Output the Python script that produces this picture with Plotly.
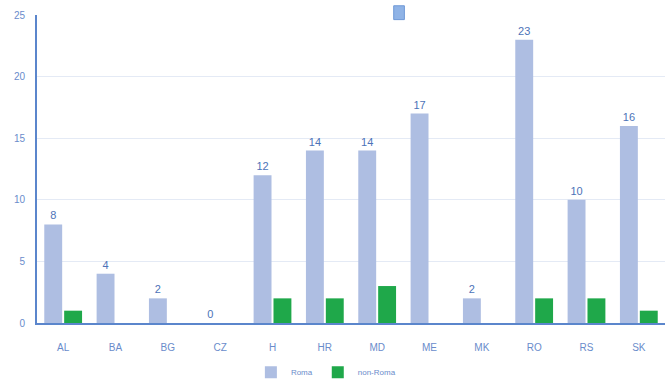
import plotly.graph_objects as go

countries = ["AL", "BA", "BG", "CZ", "H", "HR", "MD", "ME", "MK", "RO", "RS", "SK"]
roma = [8, 4, 2, 0, 12, 14, 14, 17, 2, 23, 10, 16]
non_roma = [1, 0, 0, 0, 2, 2, 3, 0, 0, 2, 2, 1]
y_ticks = [0, 5, 10, 15, 20, 25]

label_color = "#6A8CCB"
axis_color = "#5B86CC"
font_family = "Liberation Sans Narrow, Liberation Sans, Arial, sans-serif"

fig = go.Figure()
fig.add_trace(go.Bar(
    x=countries, y=roma, name="Roma",
    marker=dict(color="#AEBEE2", line=dict(width=0)),
    text=[str(v) for v in roma], textposition="outside",
    textfont=dict(color="#4D73B8", size=11, family=font_family),
    cliponaxis=False,
))
fig.add_trace(go.Bar(
    x=countries, y=non_roma, name="non-Roma",
    marker=dict(color="#1FA84A", line=dict(width=0)),
))

fig.update_layout(
    width=672, height=385,
    margin=dict(l=37, r=7, t=15, b=62, autoexpand=False),
    paper_bgcolor="white", plot_bgcolor="white",
    barmode="group", bargap=0.24, bargroupgap=0.1,
    showlegend=True,
    legend=dict(orientation="h", x=0.46, xanchor="center", y=-0.16, yanchor="middle",
                font=dict(size=8, color=label_color, family=font_family),
                itemwidth=30, tracegroupgap=0),
    font=dict(family=font_family, color=label_color, size=10),
    xaxis=dict(
        showline=True, linecolor=axis_color, linewidth=2,
        ticks="", tickfont=dict(size=10, color=label_color),
        ticklabelstandoff=14, showgrid=False,
    ),
    yaxis=dict(
        range=[0, 25], tickvals=y_ticks, ticktext=[str(v) for v in y_ticks],
        showline=True, linecolor=axis_color, linewidth=2,
        showgrid=True, gridcolor="#E4EAF5", gridwidth=1,
        zeroline=False, ticks="", tickfont=dict(size=10, color=label_color),
        ticklabelstandoff=8,
    ),
)

# small picture placeholder marker at the top of the plot area
fig.add_shape(type="rect", xref="paper", yref="paper",
              x0=0.568, x1=0.585, y0=0.985, y1=1.03,
              fillcolor="#8FB3E6", line=dict(color="#6F98D6", width=1))

fig.write_html("out.html")
